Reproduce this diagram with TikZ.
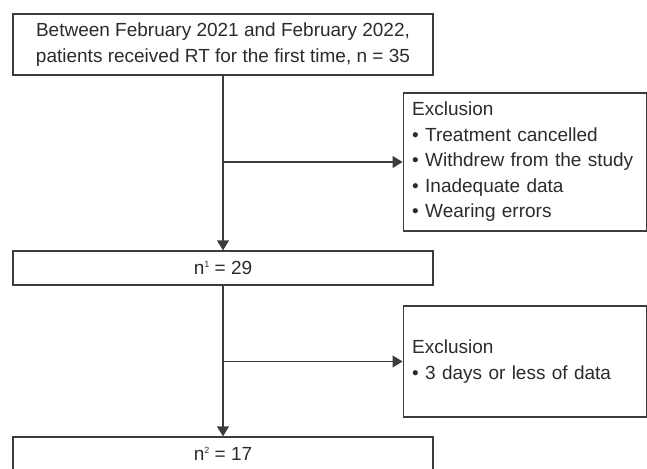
\documentclass[tikz,border=0pt]{standalone}
\usepackage{fontspec}
\setmainfont{Liberation Sans}
\usetikzlibrary{positioning,arrows.meta}
\definecolor{linegray}{HTML}{3C3C3C}
\definecolor{textgray}{HTML}{2B2B2B}
\newcommand{\supidx}[1]{\raisebox{7pt}{\fontsize{9}{9}\selectfont #1}}
\begin{document}
\begin{tikzpicture}
[x=1pt,y=-1pt,
font=\fontsize{19}{25.5}\selectfont,
mainbox/.style={rectangle,draw=linegray,line width=1.3pt,text=textgray,align=center,minimum width=420pt,inner sep=0pt},
exclbox/.style={rectangle,draw=linegray,line width=1.3pt,text=textgray,align=left,text width=225pt,inner xsep=9pt,inner ysep=0pt},
flow/.style={draw=linegray,line width=1.3pt,-{Triangle[length=10pt,width=12pt]}}]
\useasboundingbox (0,0) rectangle (647,468);
\node[mainbox,minimum height=61pt] (start) at (223,44.5)
  {Between February 2021 and February 2022,\\patients received RT for the first time, n = 35};
\node[exclbox,minimum height=138pt] (excl1) at (524.7,162)
  {Exclusion\\• Treatment cancelled\\• Withdrew from the study\\• Inadequate data\\• Wearing errors};
\node[mainbox,minimum height=34pt] (cnt1) at (223,268) {n\supidx{1} = 29};
\node[exclbox,minimum height=111pt] (excl2) at (524.7,361.5)
  {Exclusion\\• 3 days or less of data};
\node[mainbox,minimum height=34pt] (cnt2) at (223,454) {n\supidx{2} = 17};
% main flow
\draw[flow] (start) -- (cnt1);
\draw[flow] (cnt1) -- (cnt2);
% exclusions
\draw[flow] (start.south |- excl1.west) -- (excl1);
\draw[flow] (cnt1.south |- excl2.west) -- (excl2);
\end{tikzpicture}
\end{document}
